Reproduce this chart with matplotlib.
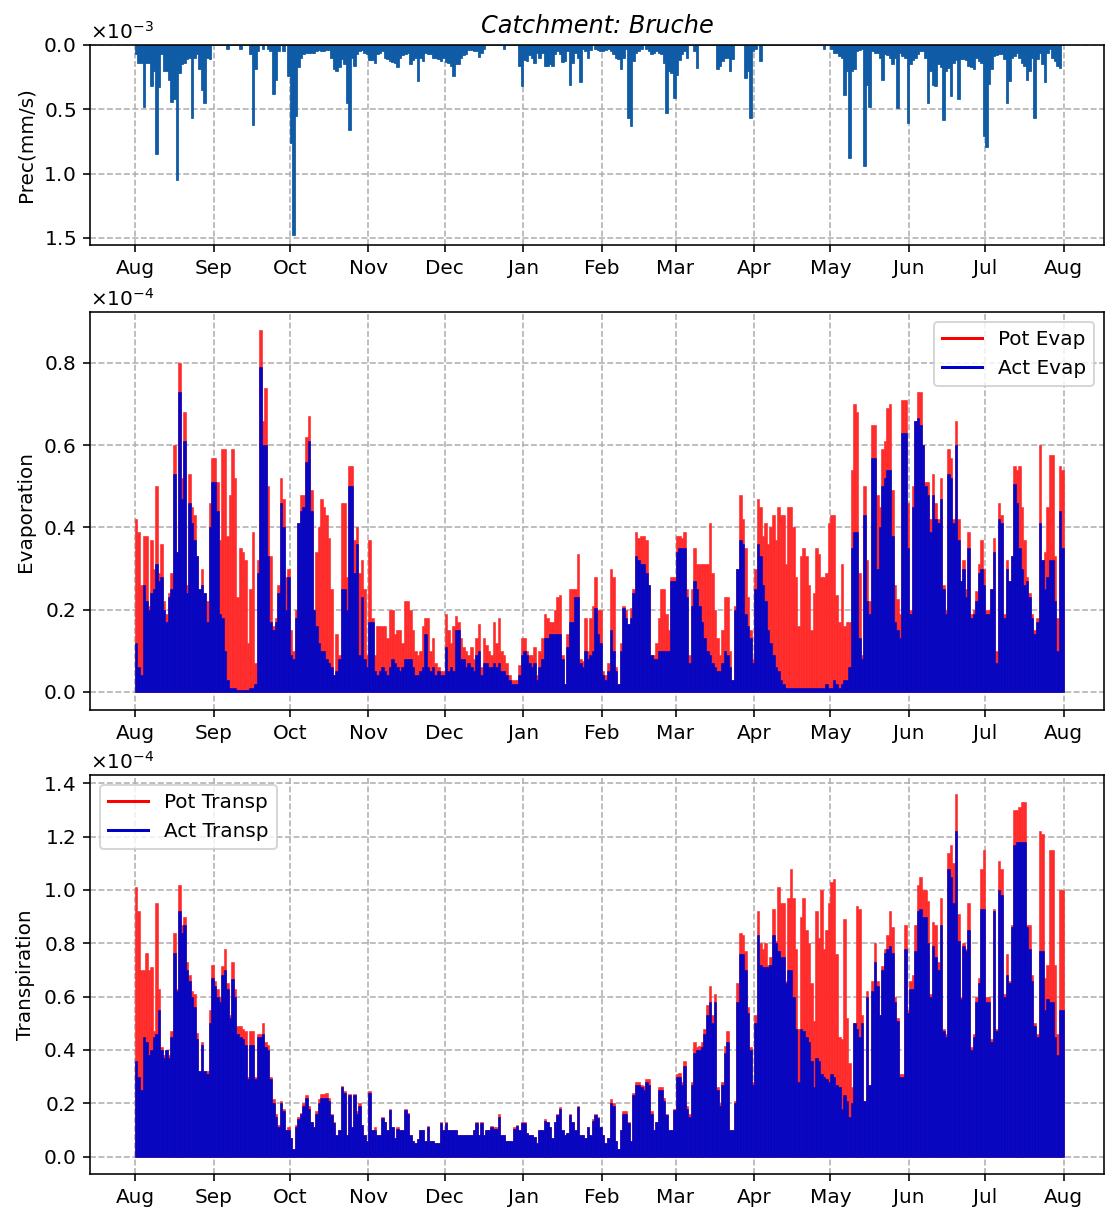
import datetime as dt
import numpy as np
import matplotlib
matplotlib.use("Agg")
import matplotlib.pyplot as plt
import matplotlib.dates as mdates
from matplotlib.lines import Line2D

# ---------------- data (daily peak values, 2015-08-01 .. 2016-07-31) ----------------
# precipitation, units of 1e-3 mm/s
precip = (
    [0.07,0.14,0.14,0.48,0.14,0.14,0.32,0.20,0.85,0.33,0.07,0.20,0.20,0.27,0.44,0.42,1.05,0.22,0.15,0.14,0.11,0.10,0.57,0.10,0.07,0.19,0.35,0.45,0.10,0.11,0]  # Aug
    + [0,0,0,0,0,0.03,0,0,0,0,0.03,0,0,0,0.07,0.62,0.19,0.05,0,0.03,0,0.03,0.05,0.38,0.27,0.05,0,0.05,0,0.24]  # Sep
    + [0.76,1.48,0.55,0.17,0.10,0.07,0.06,0.06,0.06,0.06,0.05,0.04,0.05,0.05,0.04,0.04,0.10,0.19,0.20,0.17,0.11,0.15,0.45,0.66,0.10,0.16,0.07,0.05,0.04,0.06,0.07]  # Oct
    + [0.12,0.12,0.14,0.07,0.06,0.05,0.10,0.11,0.125,0.13,0.14,0.17,0.10,0.08,0.07,0.06,0.15,0.12,0.10,0.28,0.10,0.125,0.06,0.07,0.07,0.10,0.10,0.11,0.125,0.10]  # Nov
    + [0.13,0.14,0.165,0.24,0.15,0.15,0.10,0.08,0.07,0.04,0.04,0.05,0.05,0.09,0.06,0.03,0,0,0,0,0,0,0,0.03,0,0,0,0,0,0.16,0.32]  # Dec
    + [0.12,0.125,0.08,0.10,0.14,0.06,0.10,0.06,0.16,0.165,0.15,0.16,0.07,0.05,0.07,0.13,0.125,0.05,0.31,0.14,0.06,0.10,0.29,0.03,0.05,0.10,0.04,0,0.03,0.04,0.05]  # Jan
    + [0.05,0.04,0.03,0.05,0.07,0.10,0.11,0.19,0.10,0.03,0.57,0.63,0.125,0.06,0.05,0.03,0,0.03,0.05,0.07,0.06,0.05,0.06,0.07,0.14,0.53,0.20,0.22,0.41]  # Feb
    + [0.23,0.12,0.07,0.05,0.10,0,0,0.05,0.18,0,0,0,0,0,0,0,0.19,0.165,0.125,0.10,0.10,0.20,0.11,0,0,0,0,0.255,0.20,0.57,0.05]  # Mar
    + [0.03,0,0.125,0,0,0,0,0,0,0,0,0,0,0,0,0,0,0,0,0,0,0,0,0,0,0,0,0.03,0,0]  # Apr
    + [0.03,0.06,0.06,0.086,0.10,0.385,0.20,0.88,0.20,0.19,0.05,0.04,0.03,0.94,0.31,0.48,0.05,0.06,0.06,0.10,0.27,0.073,0.08,0.10,0.15,0.10,0.49,0.06,0.086,0.10,0.61]  # May
    + [0.15,0.12,0.10,0.07,0.05,0.047,0.10,0.45,0.20,0.31,0.32,0.15,0.17,0.58,0.20,0.18,0.40,0.14,0.12,0.42,0.11,0.11,0.12,0.165,0.17,0.19,0.10,0.125,0.14,0.71]  # Jun
    + [0.79,0.30,0.19,0.086,0.08,0.073,0.073,0.11,0.45,0.28,0.10,0.086,0.06,0.10,0.14,0.165,0.27,0.20,0.10,0.57,0.11,0.06,0.15,0.29,0.06,0.034,0.10,0.125,0.165,0.18,0]  # Jul
)

# evaporation, units of 1e-4
pot_evap = (
    [0.42,0.39,0.26,0.38,0.38,0.21,0.37,0.30,0.50,0.29,0.36,0.22,0.19,0.24,0.29,0.60,0.34,0.80,0.52,0.68,0.26,0.53,0.45,0.43,0.33,0.25,0.30,0.24,0.22,0.46,0.57]
    + [0.57,0.51,0.37,0.59,0.59,0.38,0.48,0.59,0.52,0.23,0.35,0.34,0.32,0.12,0.25,0.39,0.07,0.32,0.88,0.66,0.74,0.50,0.33,0.16,0.18,0.26,0.52,0.47,0.28,0.30]
    + [0.15,0.10,0.20,0.41,0.48,0.48,0.62,0.67,0.49,0.20,0.34,0.40,0.47,0.45,0.43,0.375,0.25,0.04,0.14,0.09,0.46,0.46,0.28,0.55,0.55,0.37,0.40,0.29,0.32,0.25,0.09]
    + [0.37,0.18,0.09,0.16,0.16,0.16,0.16,0.13,0.20,0.20,0.14,0.15,0.15,0.12,0.22,0.22,0.20,0.15,0.10,0.09,0.10,0.16,0.18,0.18,0.10,0.13,0.07,0.06,0.05,0.05]
    + [0.19,0.15,0.12,0.16,0.185,0.17,0.13,0.11,0.10,0.09,0.11,0.08,0.13,0.165,0.06,0.13,0.115,0.10,0.09,0.17,0.12,0.18,0.10,0.09,0.07,0.04,0.03,0.03,0.03,0.065,0.13]
    + [0.13,0.10,0.09,0.09,0.11,0.04,0.10,0.13,0.19,0.18,0.17,0.17,0.20,0.23,0.235,0.09,0.02,0.14,0.25,0.25,0.25,0.335,0.08,0.075,0.18,0.10,0.18,0.21,0.28,0.20,0.20]
    + [0.05,0.04,0.07,0.30,0.28,0.06,0.02,0.12,0.21,0.20,0.165,0.205,0.25,0.39,0.375,0.38,0.38,0.37,0.26,0.09,0.09,0.12,0.18,0.25,0.25,0.19,0.15,0.28,0.28]
    + [0.38,0.38,0.375,0.39,0.25,0.09,0.25,0.35,0.31,0.31,0.31,0.31,0.31,0.41,0.29,0.20,0.13,0.09,0.15,0.23,0.23,0.10,0.03,0.21,0.30,0.48,0.42,0.35,0.23,0.15,0.08]
    + [0.30,0.47,0.45,0.38,0.41,0.36,0.40,0.43,0.37,0.45,0.43,0.43,0.31,0.45,0.45,0.40,0.28,0.16,0.33,0.35,0.33,0.26,0.15,0.24,0.35,0.335,0.28,0.28,0.29,0.41]
    + [0.43,0.43,0.235,0.17,0.31,0.16,0.17,0.17,0.54,0.70,0.68,0.29,0.09,0.50,0.32,0.22,0.65,0.65,0.48,0.45,0.59,0.61,0.69,0.70,0.49,0.26,0.225,0.19,0.71,0.71,0.46]
    + [0.20,0.50,0.66,0.73,0.73,0.60,0.51,0.51,0.42,0.53,0.46,0.42,0.52,0.26,0.20,0.59,0.57,0.42,0.66,0.42,0.27,0.32,0.25,0.39,0.19,0.20,0.245,0.31,0.37,0.30]
    + [0.20,0.20,0.25,0.375,0.10,0.46,0.43,0.19,0.32,0.27,0.33,0.55,0.54,0.55,0.45,0.37,0.28,0.24,0.19,0.15,0.18,0.60,0.32,0.34,0.45,0.575,0.575,0.33,0.18,0.55,0.54]
)
act_evap = (
    [0.12,0.06,0.04,0.26,0.22,0.20,0.24,0.25,0.31,0.27,0.28,0.20,0.17,0.23,0.25,0.53,0.34,0.73,0.47,0.61,0.24,0.46,0.41,0.37,0.33,0.25,0.26,0.24,0.17,0.40,0.51]
    + [0.51,0.44,0.19,0.18,0.10,0.03,0.01,0.01,0.01,0.005,0.005,0.005,0.005,0.005,0.01,0.01,0.02,0.29,0.79,0.60,0.60,0.33,0.17,0.15,0.17,0.24,0.46,0.40,0.20,0.28]
    + [0.09,0.08,0.18,0.41,0.44,0.45,0.56,0.61,0.44,0.20,0.16,0.12,0.10,0.10,0.08,0.07,0.06,0.04,0.05,0.08,0.25,0.25,0.20,0.50,0.50,0.29,0.36,0.09,0.23,0.08,0.06]
    + [0.17,0.17,0.05,0.04,0.05,0.06,0.05,0.04,0.06,0.08,0.07,0.06,0.05,0.06,0.08,0.08,0.08,0.06,0.04,0.04,0.05,0.06,0.14,0.06,0.05,0.06,0.04,0.05,0.04,0.04]
    + [0.11,0.05,0.06,0.05,0.15,0.15,0.08,0.08,0.06,0.07,0.06,0.05,0.09,0.10,0.04,0.07,0.07,0.06,0.06,0.07,0.06,0.07,0.05,0.05,0.04,0.03,0.02,0.02,0.02,0.04,0.09]
    + [0.10,0.09,0.07,0.06,0.07,0.03,0.06,0.08,0.13,0.13,0.14,0.14,0.14,0.14,0.14,0.08,0.02,0.11,0.17,0.17,0.23,0.23,0.07,0.06,0.10,0.08,0.09,0.10,0.205,0.14,0.12]
    + [0.04,0.03,0.05,0.15,0.10,0.05,0.02,0.10,0.205,0.18,0.165,0.18,0.24,0.33,0.32,0.31,0.31,0.29,0.26,0.09,0.08,0.08,0.10,0.10,0.10,0.10,0.10,0.27,0.27]
    + [0.34,0.35,0.35,0.35,0.23,0.07,0.21,0.27,0.25,0.21,0.17,0.13,0.10,0.09,0.07,0.06,0.05,0.05,0.07,0.10,0.09,0.06,0.03,0.20,0.30,0.37,0.36,0.19,0.16,0.13,0.07]
    + [0.25,0.36,0.33,0.26,0.22,0.15,0.12,0.09,0.06,0.05,0.03,0.02,0.01,0.01,0.01,0.01,0.01,0.01,0.01,0.01,0.01,0.01,0.01,0.01,0.01,0.01,0.01,0.01,0.02,0.01]
    + [0.01,0.03,0.02,0.01,0.02,0.03,0.03,0.06,0.35,0.39,0.39,0.13,0.08,0.43,0.22,0.19,0.57,0.57,0.30,0.40,0.50,0.52,0.54,0.54,0.38,0.17,0.15,0.13,0.63,0.63,0.35]
    + [0.19,0.45,0.66,0.665,0.65,0.60,0.50,0.48,0.39,0.48,0.42,0.41,0.47,0.25,0.19,0.53,0.52,0.41,0.60,0.37,0.27,0.30,0.23,0.35,0.18,0.19,0.22,0.29,0.30,0.26]
    + [0.19,0.19,0.25,0.34,0.07,0.42,0.41,0.18,0.30,0.27,0.33,0.505,0.46,0.35,0.30,0.26,0.27,0.23,0.18,0.14,0.17,0.41,0.32,0.25,0.28,0.32,0.32,0.22,0.10,0.44,0.35]
)

# transpiration, units of 1e-4
pot_transp = (
    [1.01,0.92,0.70,0.70,0.765,0.70,0.71,0.47,0.95,0.63,0.41,0.38,0.40,0.38,0.47,0.84,0.63,1.02,0.87,0.90,0.73,0.68,0.62,0.61,0.465,0.32,0.43,0.32,0.32,0.55,0.72]
    + [0.66,0.63,0.60,0.715,0.78,0.65,0.53,0.73,0.63,0.49,0.49,0.48,0.47,0.30,0.47,0.47,0.30,0.46,0.46,0.50,0.43,0.42,0.30,0.215,0.16,0.12,0.21,0.18,0.10,0.11]
    + [0.07,0.03,0.12,0.15,0.165,0.20,0.23,0.19,0.13,0.11,0.17,0.215,0.235,0.235,0.24,0.22,0.16,0.13,0.08,0.10,0.265,0.245,0.08,0.235,0.11,0.235,0.17,0.20,0.12,0.08,0.06]
    + [0.245,0.10,0.11,0.08,0.08,0.15,0.13,0.10,0.18,0.11,0.07,0.11,0.10,0.10,0.18,0.165,0.08,0.06,0.05,0.065,0.10,0.10,0.06,0.115,0.06,0.06,0.05,0.05,0.13,0.10]
    + [0.13,0.10,0.10,0.10,0.10,0.08,0.08,0.08,0.08,0.08,0.08,0.10,0.13,0.08,0.13,0.08,0.10,0.10,0.115,0.11,0.11,0.16,0.08,0.08,0.06,0.06,0.06,0.11,0.12,0.10,0.13]
    + [0.13,0.09,0.08,0.08,0.075,0.05,0.10,0.10,0.14,0.13,0.11,0.07,0.13,0.16,0.185,0.10,0.08,0.09,0.16,0.13,0.10,0.19,0.08,0.08,0.07,0.11,0.08,0.14,0.16,0.15,0.11]
    + [0.08,0.05,0.07,0.215,0.20,0.06,0.03,0.10,0.17,0.17,0.13,0.06,0.24,0.28,0.28,0.27,0.265,0.29,0.29,0.17,0.10,0.13,0.26,0.26,0.22,0.16,0.10,0.10,0.18]
    + [0.31,0.315,0.28,0.36,0.19,0.16,0.28,0.43,0.41,0.415,0.43,0.48,0.57,0.64,0.53,0.61,0.26,0.20,0.28,0.415,0.47,0.10,0.10,0.21,0.65,0.84,0.83,0.77,0.56,0.41,0.28]
    + [0.53,0.92,0.80,0.78,0.80,0.72,0.75,0.93,0.81,1.01,0.95,0.95,0.66,0.97,1.08,0.97,0.78,0.48,0.90,0.97,0.85,0.80,0.65,0.51,0.92,0.82,1.00,0.78,0.85,0.95]
    + [1.03,1.04,0.76,0.45,0.44,0.89,0.52,0.35,0.26,0.50,0.94,0.93,0.53,0.21,0.62,0.27,0.66,0.80,0.66,0.53,0.715,0.78,0.83,0.92,0.86,0.60,0.52,0.31,0.31,0.87,0.55]
    + [0.66,0.68,0.87,1.02,1.05,1.00,1.00,0.96,0.61,0.88,0.87,0.73,0.97,0.48,0.46,1.14,1.17,1.10,1.36,0.91,0.60,0.80,0.78,0.95,0.41,0.46,0.60,0.67,1.08,1.15]
    + [0.60,0.60,0.44,0.93,0.48,1.11,1.08,0.61,0.76,0.66,0.87,1.30,1.30,1.31,1.33,1.33,0.87,0.87,0.68,0.50,0.46,1.22,1.21,0.67,0.72,1.15,1.15,0.72,0.46,1.00,1.00]
)
act_transp = (
    [0.36,0.30,0.25,0.45,0.43,0.38,0.40,0.45,0.46,0.55,0.40,0.37,0.40,0.37,0.45,0.765,0.62,0.92,0.84,0.87,0.70,0.66,0.60,0.56,0.44,0.32,0.42,0.32,0.31,0.50,0.67]
    + [0.64,0.60,0.58,0.68,0.70,0.63,0.52,0.665,0.60,0.46,0.45,0.44,0.42,0.29,0.42,0.42,0.29,0.45,0.45,0.46,0.41,0.40,0.29,0.20,0.15,0.11,0.20,0.17,0.10,0.10]
    + [0.07,0.03,0.11,0.14,0.16,0.19,0.22,0.18,0.13,0.11,0.16,0.20,0.22,0.22,0.22,0.21,0.155,0.125,0.08,0.10,0.26,0.24,0.08,0.23,0.11,0.23,0.16,0.19,0.12,0.08,0.06]
    + [0.24,0.10,0.10,0.08,0.08,0.145,0.13,0.10,0.175,0.11,0.07,0.105,0.10,0.10,0.175,0.16,0.08,0.06,0.05,0.065,0.10,0.10,0.06,0.11,0.06,0.06,0.05,0.05,0.125,0.10]
    + [0.125,0.10,0.10,0.10,0.10,0.08,0.08,0.08,0.08,0.08,0.08,0.10,0.125,0.08,0.125,0.08,0.10,0.10,0.11,0.105,0.105,0.15,0.08,0.08,0.06,0.06,0.06,0.105,0.115,0.10,0.125]
    + [0.125,0.09,0.08,0.08,0.075,0.05,0.10,0.10,0.135,0.13,0.11,0.07,0.13,0.155,0.18,0.10,0.08,0.09,0.155,0.13,0.10,0.185,0.08,0.08,0.07,0.11,0.08,0.135,0.155,0.145,0.11]
    + [0.08,0.05,0.07,0.20,0.19,0.06,0.03,0.10,0.16,0.16,0.125,0.06,0.23,0.27,0.27,0.26,0.25,0.28,0.27,0.16,0.10,0.13,0.25,0.25,0.21,0.155,0.10,0.10,0.175]
    + [0.30,0.30,0.27,0.34,0.18,0.15,0.27,0.39,0.40,0.40,0.41,0.46,0.53,0.58,0.50,0.58,0.25,0.19,0.27,0.39,0.43,0.10,0.10,0.20,0.58,0.76,0.76,0.70,0.54,0.40,0.27]
    + [0.50,0.83,0.72,0.71,0.71,0.71,0.72,0.83,0.80,0.77,0.75,0.75,0.65,0.70,0.70,0.60,0.48,0.28,0.48,0.47,0.45,0.43,0.36,0.26,0.37,0.36,0.31,0.30,0.29,0.28]
    + [0.31,0.30,0.27,0.26,0.18,0.23,0.21,0.15,0.20,0.50,0.48,0.45,0.50,0.21,0.60,0.27,0.62,0.73,0.64,0.53,0.70,0.765,0.78,0.79,0.765,0.58,0.51,0.30,0.30,0.78,0.54]
    + [0.63,0.63,0.77,0.92,0.93,0.90,0.90,0.80,0.60,0.79,0.75,0.70,0.87,0.47,0.45,1.08,1.05,0.95,1.22,0.81,0.59,0.79,0.77,0.85,0.40,0.45,0.58,0.65,0.93,0.93]
    + [0.58,0.58,0.43,0.92,0.47,1.00,0.98,0.60,0.68,0.65,0.86,1.17,1.18,1.18,1.18,1.18,0.86,0.78,0.66,0.49,0.45,0.77,0.77,0.55,0.59,0.58,0.58,0.45,0.38,0.55,0.55]
)

start_date = dt.date(2015, 8, 1)
n_days = len(pot_evap)

# ---------------- figure ----------------
W, H, DPI = 1105, 1210, 144
fig = plt.figure(figsize=(W / DPI, H / DPI), dpi=DPI)

def axes_px(left, top, right, bottom):
    return fig.add_axes([left / W, 1 - bottom / H, (right - left) / W, (bottom - top) / H])

ax1 = axes_px(90, 45, 1104, 245)
ax2 = axes_px(90, 312, 1104, 710)
ax3 = axes_px(90, 775, 1104, 1174)

x0 = mdates.date2num(start_date)
days = x0 + np.arange(n_days)

RED = "#ff2a2a"
BLUE = "#0606c2"
PBLUE = "#0f5ba6"

# precipitation (inverted axis)
ax1.bar(days, np.array(precip) * 1e-3, width=1.0, align="edge", color=PBLUE,
        edgecolor=PBLUE, linewidth=0.4)
ax1.set_ylim(1.555e-3, 0)
ax1.set_yticks([0, 0.5e-3, 1.0e-3, 1.5e-3])
ax1.set_ylabel("Prec(mm/s)")
ax1.set_title("Catchment: Bruche", style="italic")
ax1.ticklabel_format(axis="y", style="sci", scilimits=(-3, -3), useMathText=True)

# evaporation
ax2.bar(days, np.array(pot_evap) * 1e-4, width=1.0, align="edge", color=RED,
        edgecolor=RED, linewidth=0.3)
ax2.bar(days, np.array(act_evap) * 1e-4, width=1.0, align="edge", color=BLUE,
        edgecolor=BLUE, linewidth=0.3)
ax2.set_ylim(-0.044e-4, 0.924e-4)
ax2.set_yticks(np.array([0, 0.2, 0.4, 0.6, 0.8]) * 1e-4)
ax2.set_ylabel("Evaporation")
ax2.ticklabel_format(axis="y", style="sci", scilimits=(-4, -4), useMathText=True)
ax2.legend(handles=[Line2D([], [], color="red", lw=1.5, label="Pot Evap"),
                    Line2D([], [], color="#0000cd", lw=1.5, label="Act Evap")],
           loc="upper right")

# transpiration
ax3.bar(days, np.array(pot_transp) * 1e-4, width=1.0, align="edge", color=RED,
        edgecolor=RED, linewidth=0.3)
ax3.bar(days, np.array(act_transp) * 1e-4, width=1.0, align="edge", color=BLUE,
        edgecolor=BLUE, linewidth=0.3)
ax3.set_ylim(-0.065e-4, 1.431e-4)
ax3.set_yticks(np.array([0, 0.2, 0.4, 0.6, 0.8, 1.0, 1.2, 1.4]) * 1e-4)
ax3.set_ylabel("Transpiration")
ax3.ticklabel_format(axis="y", style="sci", scilimits=(-4, -4), useMathText=True)
ax3.legend(handles=[Line2D([], [], color="red", lw=1.5, label="Pot Transp"),
                    Line2D([], [], color="#0000cd", lw=1.5, label="Act Transp")],
           loc="upper left")

for ax in (ax1, ax2, ax3):
    ax.set_xlim(x0 - 17.7, x0 + n_days + 15.8)
    ax.xaxis.set_major_locator(mdates.MonthLocator())
    ax.xaxis.set_major_formatter(mdates.DateFormatter("%b"))
    ax.set_axisbelow(True)
    ax.grid(True, linestyle="--", color="#b0b0b0", linewidth=0.8)

fig.savefig("out.png", dpi=DPI)
